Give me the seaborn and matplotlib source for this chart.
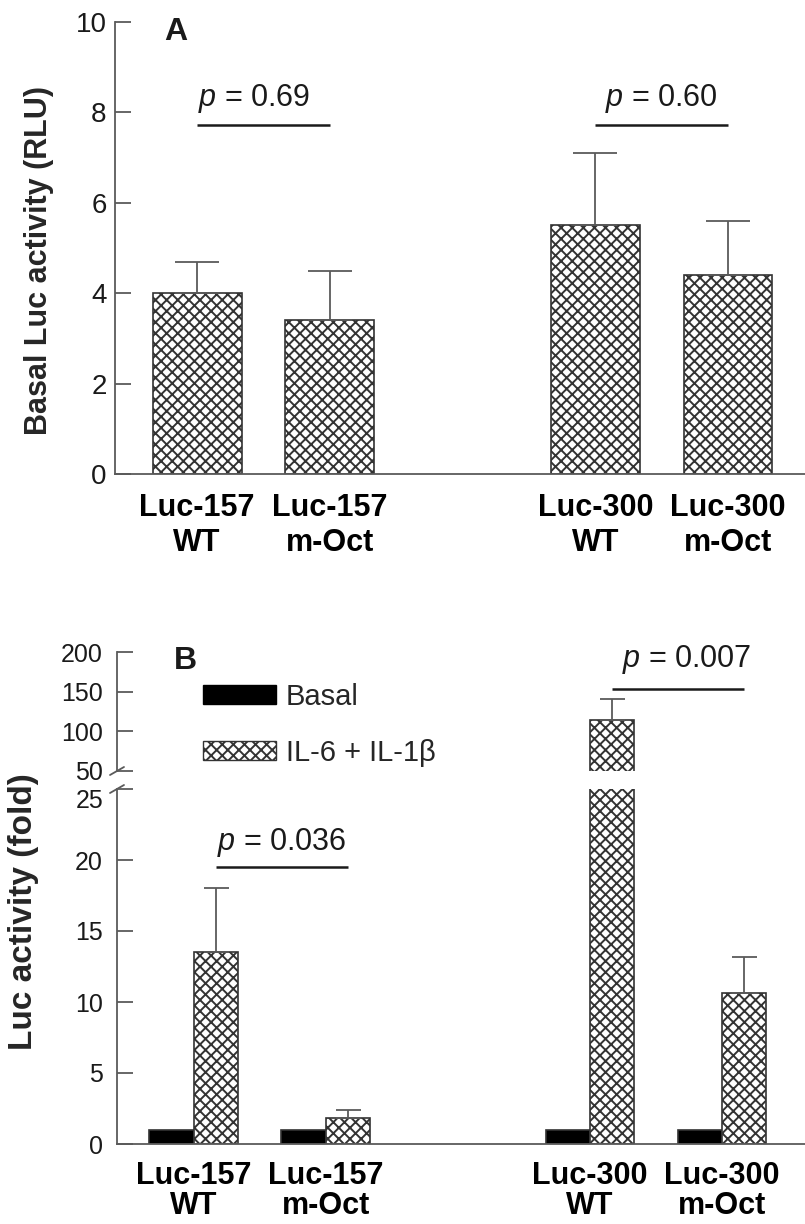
import numpy as np
import pandas as pd
import matplotlib
matplotlib.use("Agg")
import matplotlib.pyplot as plt
import seaborn as sns
from matplotlib.patches import Patch

# ---------------- data ----------------
constructs = ["Luc-157\nWT", "Luc-157\nm-Oct", "Luc-300\nWT", "Luc-300\nm-Oct"]
order = ["Luc-157\nWT", "Luc-157\nm-Oct", " ", "Luc-300\nWT", "Luc-300\nm-Oct"]

# Panel A: basal luciferase activity (RLU)
basal_rlu = [4.0, 3.4, 5.5, 4.4]
basal_rlu_err = [0.7, 1.1, 1.6, 1.2]
pvals_a = ["0.69", "0.60"]
pline_a_y = [7.72, 7.72]
ptext_a_y = [8.15, 8.15]

# Panel B: fold activity
treatments = ["Basal", "IL-6 + IL-1β"]
fold_basal = [1.0, 1.0, 1.0, 1.0]
fold_stim = [13.5, 1.8, 114.5, 10.6]
fold_stim_err = [4.5, 0.6, 26.5, 2.6]
pvals_b = ["0.036", "0.007"]
pline_b_y = [19.5, 153.8]
ptext_b_y = [20.7, 181.6]

# ---------------- style ----------------
sns.set_style("ticks")
plt.rcParams["font.family"] = ["Liberation Sans", "DejaVu Sans"]
plt.rcParams["mathtext.fontset"] = "custom"
plt.rcParams["mathtext.it"] = "Liberation Sans:italic"
plt.rcParams["mathtext.rm"] = "Liberation Sans"
plt.rcParams["hatch.linewidth"] = 1.4
plt.rcParams["hatch.color"] = "#333333"

EDGE = "#333333"
SPINE = "#5a5a5a"
ERR = "#5a5a5a"
TXT = "#1a1a1a"
HATCH = "xxx"

fig = plt.figure(figsize=(8.05, 12.24), dpi=100)


def style_axis(ax, labelsize=20, pad=6, xlabelsize=22, xpad=13):
    for s in ["top", "right"]:
        ax.spines[s].set_visible(False)
    for s in ["left", "bottom"]:
        ax.spines[s].set_color(SPINE)
        ax.spines[s].set_linewidth(1.3)
    ax.tick_params(axis="y", which="major", direction="in", length=11.5,
                   width=1.3, color=SPINE, labelsize=labelsize, pad=pad,
                   labelcolor=TXT)
    ax.tick_params(axis="x", which="major", length=0, pad=xpad,
                   labelsize=xlabelsize, labelcolor="black")
    ax.set_xlabel("")
    ax.set_ylabel("")


def style_xlabels(ax, linespacing=1.2):
    for lab in ax.get_xticklabels():
        lab.set_fontweight("bold")
        lab.set_linespacing(linespacing)
    ax.set_xticks([2], minor=True)
    ax.tick_params(axis="x", which="minor", direction="in", length=7,
                   width=1.0, color=SPINE)


# ---------------- Panel A ----------------
axA = fig.add_axes([115 / 805, 1 - 474 / 1224, 690 / 805, 452 / 1224])
dfA = pd.DataFrame({"construct": constructs, "value": basal_rlu})
sns.barplot(data=dfA, x="construct", y="value", order=order, color="white",
            width=0.67, edgecolor=EDGE, linewidth=1.2, hatch=HATCH,
            errorbar=None, ax=axA)
barsA = list(axA.containers[0])
for bar, err in zip(barsA, basal_rlu_err):
    xc = bar.get_x() + bar.get_width() / 2
    axA.errorbar(xc, bar.get_height(), yerr=[[0], [err]], fmt="none",
                 ecolor=ERR, elinewidth=1.3, capsize=16, capthick=1.3, zorder=3)
axA.set_ylim(0, 10)
axA.set_xlim(-0.618, 4.58)
axA.set_yticks([0, 2, 4, 6, 8, 10])
style_axis(axA, labelsize=20, pad=6, xlabelsize=22, xpad=14)
style_xlabels(axA)
axA.set_ylabel("Basal Luc activity (RLU)", fontsize=22, fontweight="bold")
axA.yaxis.set_label_coords(-0.088, 0.473)

centersA = [b.get_x() + b.get_width() / 2 for b in barsA]
for i, (pv, ly, ty) in enumerate(zip(pvals_a, pline_a_y, ptext_a_y)):
    x0, x1 = centersA[2 * i], centersA[2 * i + 1]
    axA.plot([x0, x1], [ly, ly], color=TXT, lw=1.8, solid_capstyle="butt")
    xt = (x0 + x1) / 2 - (0.07 if i == 0 else 0.0)
    axA.text(xt, ty, f"$p$ = {pv}", ha="center", va="baseline",
             fontsize=22, color=TXT)
axA.text(0.088, 0.978, "A", transform=axA.transAxes, ha="center",
         va="center", fontsize=23, fontweight="bold", color=TXT)

# ---------------- Panel B ----------------
dfB = pd.DataFrame({
    "construct": constructs * 2,
    "treatment": [treatments[0]] * 4 + [treatments[1]] * 4,
    "value": fold_basal + fold_stim,
})
pal = {treatments[0]: "black", treatments[1]: "white"}

axBlo = fig.add_axes([117 / 805, 1 - 1144 / 1224, 688 / 805, 355 / 1224])
axBhi = fig.add_axes([117 / 805, 1 - 771 / 1224, 688 / 805, 119 / 1224])

for ax in (axBlo, axBhi):
    sns.barplot(data=dfB, x="construct", y="value", hue="treatment",
                order=order, hue_order=treatments, palette=pal, width=0.67,
                edgecolor=EDGE, linewidth=1.2, errorbar=None, ax=ax,
                legend=False)
    for bar in ax.containers[1]:
        bar.set_hatch(HATCH)
    for bar, err in zip(ax.containers[1], fold_stim_err):
        xc = bar.get_x() + bar.get_width() / 2
        ax.errorbar(xc, bar.get_height(), yerr=[[0], [err]], fmt="none",
                    ecolor=ERR, elinewidth=1.3, capsize=9, capthick=1.3,
                    zorder=3)
    ax.set_xlim(-0.58, 4.63)
    style_axis(ax, labelsize=18, pad=10, xlabelsize=22, xpad=12)

axBlo.set_ylim(0, 25)
axBlo.set_yticks([0, 5, 10, 15, 20, 25])
style_xlabels(axBlo, linespacing=1.0)
axBlo.set_ylabel("Luc activity (fold)", fontsize=24, fontweight="bold")
axBlo.yaxis.set_label_coords(-0.113, 0.654)
# the "25" label sits just under its tick, as in the original broken axis
for lab in axBlo.get_yticklabels():
    if lab.get_text() == "25":
        lab.set_verticalalignment("top")

axBhi.set_ylim(50, 200)
axBhi.set_yticks([50, 100, 150, 200])
axBhi.spines["bottom"].set_visible(False)
axBhi.set_xticks([])
axBhi.set_xlabel("")

# break marks on the y axis
dx = 7 / 688
axBhi.plot([-dx, dx], [-4 / 119, 4 / 119], transform=axBhi.transAxes,
           color=SPINE, lw=1.3, clip_on=False)
axBlo.plot([-dx, dx], [1 - 4 / 355, 1 + 4 / 355], transform=axBlo.transAxes,
           color=SPINE, lw=1.3, clip_on=False)

centersB = [b.get_x() + b.get_width() / 2 for b in axBlo.containers[1]]
for i, (pv, ly, ty) in enumerate(zip(pvals_b, pline_b_y, ptext_b_y)):
    ax = axBlo if i == 0 else axBhi
    x0, x1 = centersB[2 * i], centersB[2 * i + 1]
    ax.plot([x0, x1], [ly, ly], color=TXT, lw=1.8, solid_capstyle="butt",
            clip_on=False)
    xt = (x0 + x1) / 2 + (0.07 if i == 1 else 0.0)
    ax.text(xt, ty, f"$p$ = {pv}", ha="center", va="baseline",
            fontsize=22, color=TXT, clip_on=False)

axBhi.text(0.10, 0.924, "B", transform=axBhi.transAxes, ha="center",
           va="center", fontsize=23, fontweight="bold", color=TXT)

handles = [Patch(facecolor="black", edgecolor="black"),
           Patch(facecolor="white", edgecolor=EDGE, hatch=HATCH)]
axBhi.legend(handles=handles, labels=treatments, loc="upper left",
             bbox_to_anchor=(203 / 805, 1 - 683 / 1224),
             bbox_transform=fig.transFigure, frameon=False, fontsize=21,
             handlelength=2.5, handleheight=0.65, handletextpad=0.35,
             labelspacing=0.95, borderpad=0, borderaxespad=0)

fig.savefig("out.png", dpi=100)
